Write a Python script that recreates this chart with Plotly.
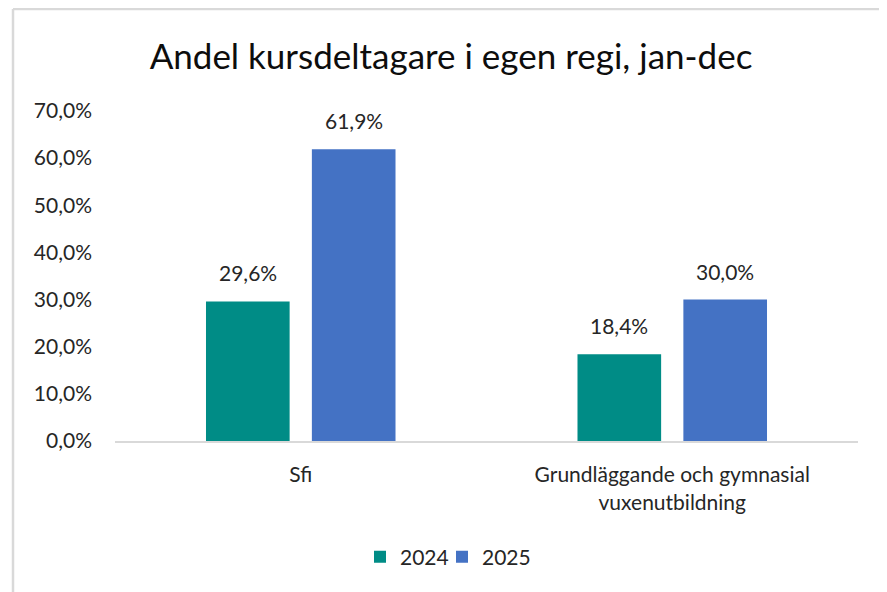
import plotly.graph_objects as go

categories = ["Sfi", "Grundläggande och gymnasial<br>vuxenutbildning"]
series_names = ["2024", "2025"]
values_2024 = [29.6, 18.4]
values_2025 = [61.9, 30.0]
tick_vals = [0, 10, 20, 30, 40, 50, 60, 70]
tick_text = ["0,0%", "10,0%", "20,0%", "30,0%", "40,0%", "50,0%", "60,0%", "70,0%"]
title_text = "Andel kursdeltagare i egen regi, jan-dec"

colors = ["#008C86", "#4472C4"]
FONT = "Lato"
TXT = "#262626"

# page body has an 8px margin; figure coordinates = screen - 8
OFF = 8
W, H = 887 - OFF, 592 - OFF
ML, MR, MT, MB = 115 - OFF, 29, 111 - OFF, 151
BARGAP = 0.43
BARGROUPGAP = 0.21

def fmt(v):
    return f"{v:.1f}".replace(".", ",") + "%"

fig = go.Figure()
series = [values_2024, values_2025]
legends = ["legend", "legend2"]
for name, vals, col, lg in zip(series_names, series, colors, legends):
    fig.add_trace(go.Bar(
        x=categories, y=vals, name=name, legend=lg,
        marker=dict(color=col, line=dict(width=0)),
        hoverinfo="skip",
    ))

plot_w = W - ML - MR
plot_h = H - MT - MB
cat_w = plot_w / len(categories)
slot = cat_w * (1 - BARGAP) / len(series)
for i, vals in enumerate(series):
    off = (i - (len(series) - 1) / 2) * slot
    for c, v in zip(categories, vals):
        fig.add_annotation(
            x=c, y=v, xref="x", yref="y", text=fmt(v), showarrow=False,
            xanchor="center", yanchor="bottom", xshift=off, yshift=14,
            font=dict(family=FONT, size=21, color=TXT),
        )

# screen px -> paper coords
sx = lambda px: (px - OFF - ML) / plot_w
sy = lambda py: (H - MB - (py - OFF)) / plot_h

fig.add_shape(type="line", xref="paper", yref="paper",
              x0=sx(13), x1=sx(900), y0=sy(9), y1=sy(9),
              line=dict(color="#d9d9d9", width=2.5))
fig.add_shape(type="line", xref="paper", yref="paper",
              x0=sx(13), x1=sx(13), y0=sy(9), y1=sy(600),
              line=dict(color="#d9d9d9", width=2.5))

legend_style = dict(orientation="h", xanchor="left", yanchor="middle",
                    y=sy(557), font=dict(family=FONT, size=21, color=TXT),
                    itemwidth=30, bgcolor="rgba(0,0,0,0)")

fig.update_layout(
    width=W, height=H,
    margin=dict(l=ML, r=MR, t=MT, b=MB),
    paper_bgcolor="white", plot_bgcolor="white",
    barmode="group", bargap=BARGAP, bargroupgap=BARGROUPGAP,
    font=dict(family=FONT, size=21, color=TXT),
    title=dict(text=title_text, x=(451 - OFF) / W, xanchor="center",
               y=1 - (57 - OFF) / H, yanchor="middle", yref="container",
               font=dict(family=FONT, size=35, color="#0d0d0d")),
    showlegend=True,
    legend=dict(x=sx(360), **legend_style),
    legend2=dict(x=sx(442), **legend_style),
    xaxis=dict(showline=True, linecolor="#d9d9d9", linewidth=2,
               showgrid=False, ticks="", ticklabelstandoff=14,
               tickfont=dict(family=FONT, size=21, color=TXT)),
    yaxis=dict(range=[0, 70], tickvals=tick_vals, ticktext=tick_text,
               showgrid=False, showline=False, zeroline=False, ticks="",
               ticklabelstandoff=22,
               tickfont=dict(family=FONT, size=21, color=TXT)),
)

fig.write_html("out.html")
